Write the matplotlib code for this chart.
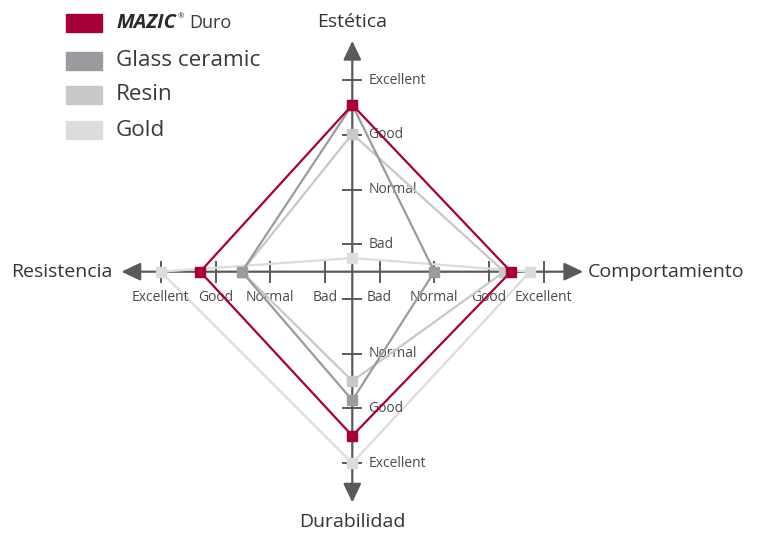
import numpy as np
import matplotlib
matplotlib.use("Agg")
import matplotlib.pyplot as plt
from matplotlib.patches import Rectangle

plt.rcParams['font.family'] = ['Open Sans', 'DejaVu Sans']

# ---- data ----
axes_names = ["Estética", "Comportamiento", "Durabilidad", "Resistencia"]  # up, right, down, left
levels = ["Bad", "Normal", "Good", "Excellent"]          # scores 1..4
series_names = ["MAZIC Duro", "Glass ceramic", "Resin", "Gold"]
mazic = [3.55, 3.40, 3.50, 3.28]
glass = [3.55, 2.00, 2.85, 2.52]
resin = [3.02, 3.28, 2.50, 2.52]
gold = [0.75, 3.75, 4.00, 4.00]
colors = ["#a5003a", "#9a9b9f", "#c8c8ca", "#dcdcde"]

W, H, DPI = 760, 534, 100
fig = plt.figure(figsize=(W / DPI, H / DPI), dpi=DPI)
ax = fig.add_axes([0, 0, 1, 1])
unit = 54.7
cx, cy = 352.3, H - 271.7
ax.set_xlim(-cx / unit, (W - cx) / unit)
ax.set_ylim(-cy / unit, (H - cy) / unit)
ax.set_aspect('equal')
ax.axis('off')

dirs = [(0, 1), (1, 0), (0, -1), (-1, 0)]
def pos(score):
    return score - 0.5

axis_col = "#5a5a5c"
L = 4.22
# axis lines with arrows
for dx, dy in dirs[:2]:
    ax.annotate('', xy=(dx * L, dy * L), xytext=(-dx * L, -dy * L),
                arrowprops=dict(arrowstyle='<|-|>,head_length=0.8,head_width=0.38',
                                color=axis_col, lw=1.6, shrinkA=0, shrinkB=0,
                                mutation_scale=14.5), zorder=1)

# ticks
tk_h = 10 / unit
tk_v = 9 / unit
lab_col = "#4a4a4a"
fs_l = 10
for i, lv in enumerate(levels):
    p = pos(i + 1)
    for s in (1, -1):
        ax.plot([s * p, s * p], [-tk_h, tk_h], color=axis_col, lw=1.4, zorder=1)
        ax.plot([-tk_v, tk_v], [s * p, s * p], color=axis_col, lw=1.4, zorder=1)
        # horizontal axis labels
        ax.text(s * p, -26 / unit, lv, ha='center', va='center', fontsize=fs_l, color=lab_col)
        # vertical axis labels (lower "Bad" coincides with the horizontal one)
        if not (s == -1 and i == 0):
            ax.text(16 / unit, s * p, lv, ha='left', va='center', fontsize=fs_l, color=lab_col)

# series polygons
all_series = [mazic, glass, resin, gold]
for vals, col, z in reversed(list(zip(all_series, colors, [5, 4, 3, 2]))):
    xs = [d[0] * pos(v) for d, v in zip(dirs, vals)]
    ys = [d[1] * pos(v) for d, v in zip(dirs, vals)]
    ax.plot(xs + xs[:1], ys + ys[:1], color=col, lw=1.6, zorder=z)
    ax.plot(xs, ys, ls='none', marker='s', ms=6.5, color=col, zorder=z + 0.5)

# axis titles
title_col = "#333333"
fs_t = 14
ax.text(0, (cy - (H - 22)) / -unit, axes_names[0], ha='center', va='center', fontsize=fs_t, color=title_col)
ax.text((588 - cx) / unit, 0, axes_names[1], ha='left', va='center', fontsize=fs_t, color=title_col)
ax.text(0, -(522 - 271.7) / unit, axes_names[2], ha='center', va='center', fontsize=fs_t, color=title_col)
ax.text((113 - cx) / unit, 0, axes_names[3], ha='right', va='center', fontsize=fs_t, color=title_col)

# legend (figure pixel coords)
row_y = [23, 60.5, 95, 130]
for name, col, ry in zip(series_names, colors, row_y):
    fig.patches.append(Rectangle((66 / W, (H - ry - 9) / H), 36 / W, 18 / H,
                                 transform=fig.transFigure, color=col))
    if name == "MAZIC Duro":
        r = fig.canvas.get_renderer()
        t1 = fig.text(116 / W, (H - ry) / H, "MAZIC", fontsize=14.5, fontweight='bold',
                      style='italic', color="#2a2a2a", ha='left', va='center')
        bb = t1.get_window_extent(r)
        t2 = fig.text((bb.x1 + 2) / W, (H - ry + 6) / H, "®", fontsize=5.5,
                      color="#2a2a2a", ha='left', va='center')
        bb2 = t2.get_window_extent(r)
        fig.text((bb2.x1 + 5) / W, (H - ry) / H, "Duro", fontsize=13,
                 color="#3a3a3a", ha='left', va='center')
    else:
        fig.text(116 / W, (H - ry) / H, name, fontsize=16.2, color="#3a3a3a",
                 ha='left', va='center')

fig.savefig("out.png", dpi=DPI)
